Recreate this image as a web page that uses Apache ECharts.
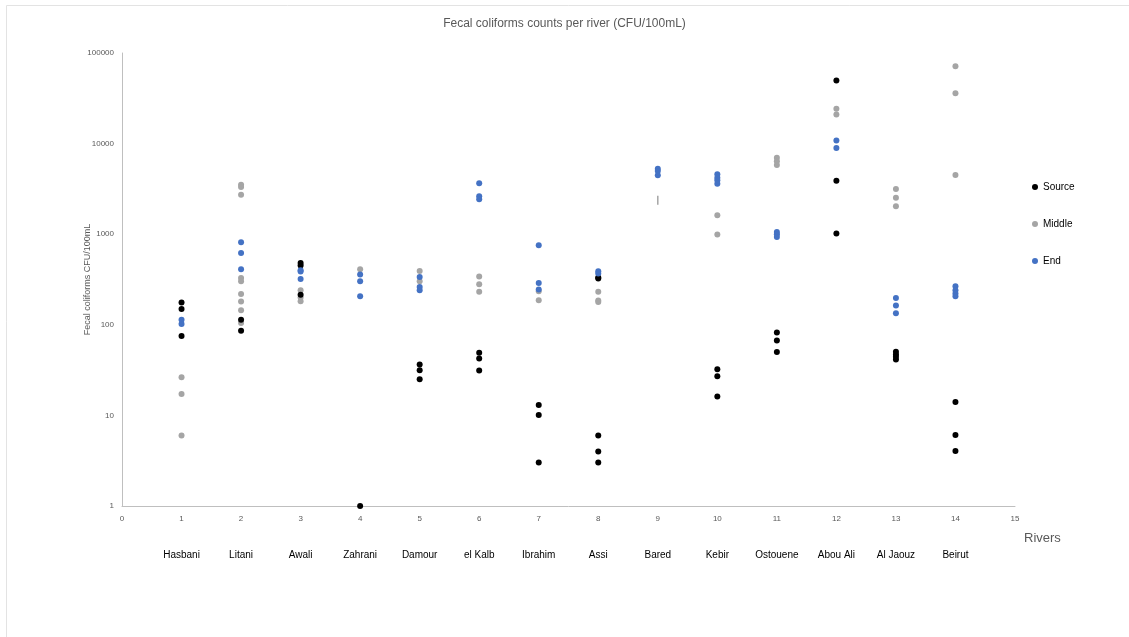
<!DOCTYPE html>
<html>
<head>
<meta charset="utf-8">
<script src="https://cdn.jsdelivr.net/npm/echarts@6/dist/echarts.min.js"></script>
<style>
html,body{margin:0;padding:0;background:#fff;}
#chart{width:1129px;height:637px;}
</style>
</head>
<body>
<div id="chart"></div>
<script>
// River names, positioned at x = 1..14
const rivers = ["Hasbani","Litani","Awali","Zahrani","Damour","el Kalb","Ibrahim","Assi","Bared","Kebir","Ostouene","Abou Ali","Al Jaouz","Beirut"];
// Fecal coliform counts (CFU/100mL) per river
const sourceVals = [
  [176,149,75],
  [114,86],
  [482,451,214],
  [1],
  [36.5,31.6,25.1],
  [49,42.5,31.3],
  [13,10.1,3.03],
  [332,324,6.0,4.0,3.03],
  [],
  [32.4,27.1,16.2],
  [82,67,50],
  [49770,3900,1016],
  [50.3,47.1,44.3,41.4],
  [14.1,6.07,4.04]
];
const middleVals = [
  [26.4,17.2,6.0],
  [3523,3314,2733,329,303,219,181,145,105],
  [241,200,182],
  [410],
  [393,303],
  [341,280,231],
  [235,187],
  [231,185,179],
  [],
  [1616,990],
  [6995,6400,5795],
  [24250,20990],
  [3150,2530,2031],
  [71550,36050,4495]
];
const endVals = [
  [114,102],
  [814,621,410],
  [400,387,321],
  [359,303,207],
  [338,262,241],
  [3640,2617,2426],
  [755,290,245],
  [390,368],
  [5290,4975,4460],
  [4575,4210,3930,3610],
  [1058,998,932],
  [10840,8920],
  [198,163,134],
  [267,241,221,207]
];
// Bared middle-site value, drawn as a short vertical dash in the reference
const baredMiddle = [[9, 2365]];
const xTicks = [0,1,2,3,4,5,6,7,8,9,10,11,12,13,14,15];
const yTicks = [1,10,100,1000,10000,100000];

function toPoints(vals){
  const out = [];
  vals.forEach((arr,i)=>arr.forEach(v=>out.push([i+1, v])));
  return out;
}

const FONT = "'Liberation Sans Narrow','Liberation Sans',sans-serif";
const chart = echarts.init(document.getElementById('chart'), null, {renderer:'canvas'});
chart.setOption({
  backgroundColor:'#ffffff',
  animation:false,
  textStyle:{fontFamily:FONT},
  title:{
    text:'Fecal coliforms counts per river (CFU/100mL)',
    left:'center', top:13,
    textStyle:{fontFamily:FONT, fontSize:12, fontWeight:'normal', color:'#595959'}
  },
  legend:{
    orient:'vertical', left:1027, top:177, itemGap:27,
    itemWidth:6, itemHeight:6, icon:'circle',
    data:['Source','Middle','End'],
    textStyle:{fontFamily:FONT, fontSize:10, color:'#000'}
  },
  grid:{left:122, right:114, top:53, bottom:131, containLabel:false},
  xAxis:[{
    type:'value', min:0, max:15, interval:1,
    axisLine:{lineStyle:{color:'#bfbfbf'}},
    axisTick:{show:false},
    splitLine:{show:false},
    axisLabel:{fontFamily:FONT, fontSize:8, color:'#595959', margin:9,
      formatter:(v)=> xTicks.includes(v) ? String(v) : ''}
  },{
    type:'value', min:0, max:15, interval:1, position:'bottom', offset:38,
    axisLine:{show:false}, axisTick:{show:false}, splitLine:{show:false},
    axisLabel:{fontFamily:FONT, fontSize:10, color:'#000', margin:6,
      formatter:(v)=> rivers[v-1] || ''}
  }],
  yAxis:{
    type:'log', logBase:10, min:1, max:100000,
    name:'Fecal coliforms CFU/100mL', nameLocation:'middle', nameGap:30,
    nameMoveOverlap:false,
    nameTextStyle:{fontFamily:FONT, fontSize:9, color:'#595959'},
    axisLine:{show:true, lineStyle:{color:'#bfbfbf'}},
    axisTick:{show:false},
    splitLine:{show:false},
    axisLabel:{fontFamily:FONT, fontSize:8, color:'#595959', margin:8,
      formatter:(v)=> yTicks.includes(Math.round(v)) ? String(Math.round(v)) : ''}
  },
  graphic:[
    {type:'rect', shape:{x:6.5, y:5.5, width:1200, height:700}, style:{fill:'none', stroke:'#e3e3e3', lineWidth:1}, silent:true},
    {type:'text', left:1024, top:532, style:{text:'Rivers', fontFamily:FONT, fontSize:13, fill:'#595959'}}
  ],
  series:[
    {name:'Source', type:'scatter', xAxisIndex:0, data:toPoints(sourceVals), symbolSize:6, itemStyle:{color:'#000000', opacity:1}, z:3},
    {name:'Middle', type:'scatter', xAxisIndex:0, data:toPoints(middleVals), symbolSize:6, itemStyle:{color:'#a5a5a5', opacity:1}, z:2},
    {name:'End', type:'scatter', xAxisIndex:0, data:toPoints(endVals), symbolSize:6, itemStyle:{color:'#4472c4', opacity:1}, z:4},
    {name:'Middle ', type:'scatter', xAxisIndex:0, data:baredMiddle, symbol:'rect', symbolSize:[1.5,9], itemStyle:{color:'#a5a5a5', opacity:1}, z:2}
  ]
});
</script>
</body>
</html>
